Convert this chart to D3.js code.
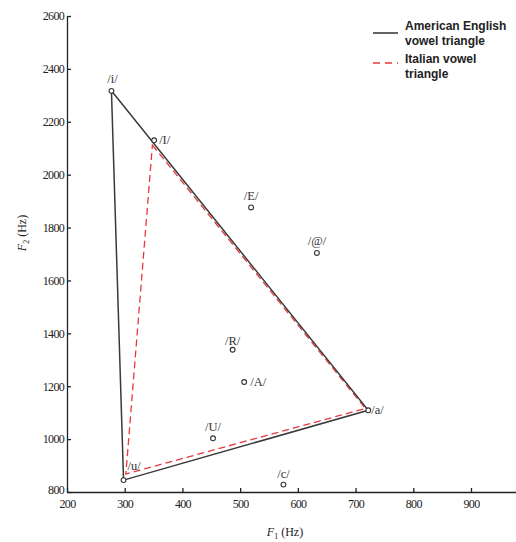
<!DOCTYPE html>
<html>
<head>
<meta charset="utf-8">
<script src="https://cdn.jsdelivr.net/npm/d3@7/dist/d3.min.js"></script>
<style>
  body { margin: 0; background: #fff; }
  svg { display: block; }
</style>
</head>
<body>
<div id="chart"></div>
<script>
// vowel formant data
var vowels = ['/i/', '/I/', '/E/', '/@/', '/R/', '/A/', '/a/', '/U/', '/u/', '/c/'];
var f1Values = [277, 351, 519, 633, 487, 507, 722, 453, 298, 575];
var f2Values = [2317, 2130, 1876, 1704, 1338, 1216, 1109, 1003, 845, 828];

// triangle corners (F1, F2)
var americanF1 = [277, 722, 298];
var americanF2 = [2317, 1109, 845];
var italianF1 = [348, 717, 302];
var italianF2 = [2112, 1116, 868];

var xTicks = [200, 300, 400, 500, 600, 700, 800, 900];
var yTicks = [800, 1000, 1200, 1400, 1600, 1800, 2000, 2200, 2400, 2600];

var legendLabels = [['American English', 'vowel triangle'], ['Italian vowel', 'triangle']];

var svgWidth = 516;
var svgHeight = 542;

var svg = d3.select('#chart')
    .append('svg')
    .attr('width', svgWidth)
    .attr('height', svgHeight);

var x = d3.scaleLinear().domain([200, 978]).range([67, 516]);
var y = d3.scaleLinear().domain([800, 2600]).range([492, 16]);

// where each label sits relative to its point: [dx, dy, anchor]
var labelPos = {
    '/i/': [1, -8, 'middle'],
    '/I/': [5, 4, 'start'],
    '/E/': [0, -7, 'middle'],
    '/@/': [0, -8, 'middle'],
    '/R/': [0, -5, 'middle'],
    '/A/': [6, 4, 'start'],
    '/a/': [3, 4, 'start'],
    '/U/': [0, -7, 'middle'],
    '/u/': [4, -10, 'start'],
    '/c/': [0, -7, 'middle']
};

var serif = '"Liberation Serif", "DejaVu Serif", serif';

// axes
var xAxis = svg.append('g')
    .attr('transform', 'translate(0,' + y(800) + ')')
    .call(d3.axisBottom(x).tickValues(xTicks).tickFormat(d3.format('d'))
        .tickSizeInner(-4).tickSizeOuter(0).tickPadding(7));

var yAxis = svg.append('g')
    .attr('transform', 'translate(' + x(200) + ',0)')
    .call(d3.axisLeft(y).tickValues(yTicks).tickFormat(d3.format('d'))
        .tickSizeInner(-4).tickSizeOuter(0).tickPadding(3));

[xAxis, yAxis].forEach(function(a) {
    a.selectAll('path, line').attr('stroke', '#222').attr('stroke-width', 1.3);
    a.selectAll('text')
        .attr('fill', '#222')
        .style('font-family', serif)
        .style('font-size', '12px')
        .style('letter-spacing', '-0.7px');
});

// 800 label sits a little higher like the original
yAxis.selectAll('.tick text').filter(function(d) { return d === 800; }).attr('dy', '0.1em');

// triangles
function tri(f1, f2) {
    var pts = f1.map(function(d, i) { return [x(d), y(f2[i])]; });
    return d3.line()(pts) + 'Z';
}

svg.append('path')
    .attr('d', tri(italianF1, italianF2))
    .attr('fill', 'none')
    .attr('stroke', '#e8383d')
    .attr('stroke-width', 1.3)
    .attr('stroke-dasharray', '7,4');

svg.append('path')
    .attr('d', tri(americanF1, americanF2))
    .attr('fill', 'none')
    .attr('stroke', '#3a3a3a')
    .attr('stroke-width', 1.5);

// vowel points
var pts = svg.selectAll('g.vowel')
    .data(vowels)
    .enter()
    .append('g')
    .attr('class', 'vowel');

pts.append('circle')
    .attr('cx', function(d, i) { return x(f1Values[i]); })
    .attr('cy', function(d, i) { return y(f2Values[i]); })
    .attr('r', 2.4)
    .attr('fill', '#fff')
    .attr('stroke', '#333')
    .attr('stroke-width', 1.1);

pts.append('text')
    .attr('x', function(d, i) { return x(f1Values[i]) + labelPos[d][0]; })
    .attr('y', function(d, i) { return y(f2Values[i]) + labelPos[d][1]; })
    .attr('text-anchor', function(d) { return labelPos[d][2]; })
    .attr('fill', '#333')
    .style('font-family', serif)
    .style('font-size', '12.5px')
    .text(function(d) { return d; });

// axis titles
var xTitle = svg.append('text')
    .attr('x', 285)
    .attr('y', 536)
    .attr('text-anchor', 'middle')
    .attr('fill', '#222')
    .style('font-family', serif)
    .style('font-size', '12px');
xTitle.append('tspan').style('font-style', 'italic').text('F');
xTitle.append('tspan').attr('dy', 3).style('font-size', '8px').text('1');
xTitle.append('tspan').attr('dy', -3).text(' (Hz)');

var yTitle = svg.append('text')
    .attr('transform', 'translate(26,233) rotate(-90)')
    .attr('text-anchor', 'middle')
    .attr('fill', '#222')
    .style('font-family', serif)
    .style('font-size', '12px');
yTitle.append('tspan').style('font-style', 'italic').text('F');
yTitle.append('tspan').attr('dy', 3).style('font-size', '8px').text('2');
yTitle.append('tspan').attr('dy', -3).text(' (Hz)');

// legend
var legendStyles = [{ stroke: '#111', dash: null }, { stroke: '#e8383d', dash: '7,5' }];
var legend = svg.selectAll('g.legend')
    .data(legendLabels)
    .enter()
    .append('g')
    .attr('class', 'legend')
    .attr('transform', function(d, i) { return 'translate(373,' + (20 + i * 33) + ')'; });

legend.append('line')
    .attr('x1', 0)
    .attr('x2', 25)
    .attr('y1', function(d, i) { return i === 0 ? 13 : 10; })
    .attr('y2', function(d, i) { return i === 0 ? 13 : 10; })
    .attr('stroke', function(d, i) { return legendStyles[i].stroke; })
    .attr('stroke-width', 1.3)
    .attr('stroke-dasharray', function(d, i) { return legendStyles[i].dash; });

legend.each(function(d) {
    var t = d3.select(this).append('text')
        .attr('x', 32)
        .attr('y', 10)
        .attr('fill', '#222')
        .style('font-family', '"Liberation Sans", Arial, sans-serif')
        .style('font-weight', 'bold')
        .style('font-size', '12px');
    d.forEach(function(line, j) {
        t.append('tspan').attr('x', 32).attr('dy', j === 0 ? 0 : 15).text(line);
    });
});
</script>
</body>
</html>
